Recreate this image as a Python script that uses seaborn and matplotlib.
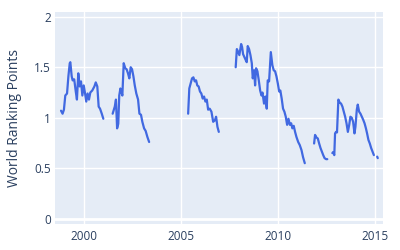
import numpy as np
import pandas as pd
import matplotlib
matplotlib.use("Agg")
import matplotlib.pyplot as plt
import seaborn as sns

# Segment data (decimal year, ranking points)
seg1_year = [1998.80, 1998.88, 1998.95, 1999.02, 1999.11, 1999.18, 1999.25, 1999.28, 1999.35, 1999.40,
             1999.48, 1999.56, 1999.62, 1999.69, 1999.76, 1999.83, 1999.90, 1999.97, 2000.04, 2000.10,
             2000.17, 2000.24, 2000.31, 2000.41, 2000.52, 2000.59, 2000.67, 2000.74, 2000.81, 2000.90, 2000.98]
seg1_pts = [1.07, 1.04, 1.08, 1.22, 1.24, 1.41, 1.54, 1.55, 1.41, 1.37,
            1.38, 1.26, 1.18, 1.44, 1.31, 1.36, 1.22, 1.32, 1.24, 1.16,
            1.24, 1.18, 1.25, 1.27, 1.31, 1.35, 1.31, 1.11, 1.09, 1.04, 0.99]

seg2_year = [2001.46, 2001.57, 2001.63, 2001.69, 2001.75, 2001.80, 2001.86, 2001.91, 2001.96, 2002.03,
             2002.11, 2002.18, 2002.25, 2002.32, 2002.39, 2002.46, 2002.53, 2002.60, 2002.68, 2002.77,
             2002.84, 2002.92, 2002.99, 2003.08, 2003.16, 2003.25, 2003.34]
seg2_pts = [1.04, 1.11, 1.18, 0.895, 0.94, 1.22, 1.29, 1.26, 1.22, 1.54,
            1.49, 1.48, 1.44, 1.39, 1.50, 1.48, 1.41, 1.32, 1.24, 1.18,
            1.04, 1.03, 0.96, 0.895, 0.87, 0.81, 0.76]

seg3_year = [2005.35, 2005.41, 2005.48, 2005.55, 2005.62, 2005.69, 2005.76, 2005.82, 2005.89, 2005.96,
             2006.03, 2006.10, 2006.17, 2006.24, 2006.31, 2006.38, 2006.46, 2006.55, 2006.64, 2006.73,
             2006.79, 2006.86, 2006.93]
seg3_pts = [1.04, 1.29, 1.34, 1.39, 1.40, 1.36, 1.37, 1.32, 1.31, 1.26,
            1.24, 1.19, 1.21, 1.16, 1.18, 1.08, 1.09, 1.06, 0.96, 0.975,
            1.01, 0.91, 0.86]

seg4_year = [2007.80, 2007.86, 2007.91, 2007.99, 2008.08, 2008.13, 2008.18, 2008.25, 2008.32, 2008.37,
             2008.42, 2008.49, 2008.56, 2008.63, 2008.68, 2008.75, 2008.80, 2008.85, 2008.92, 2008.99,
             2009.06, 2009.13, 2009.18, 2009.26, 2009.33, 2009.40, 2009.45, 2009.52, 2009.61, 2009.69,
             2009.76, 2009.83, 2009.90, 2009.97, 2010.04, 2010.10, 2010.17, 2010.24, 2010.31, 2010.38,
             2010.45, 2010.52, 2010.59, 2010.66, 2010.72, 2010.79, 2010.86, 2010.93, 2011.02, 2011.10,
             2011.19, 2011.27, 2011.36]
seg4_pts = [1.50, 1.68, 1.66, 1.62, 1.73, 1.70, 1.63, 1.60, 1.57, 1.55,
            1.71, 1.68, 1.62, 1.54, 1.39, 1.47, 1.32, 1.49, 1.46, 1.37,
            1.27, 1.22, 1.25, 1.14, 1.21, 1.09, 1.37, 1.36, 1.65, 1.52,
            1.47, 1.46, 1.41, 1.34, 1.26, 1.27, 1.19, 1.09, 1.06, 1.01,
            0.93, 0.99, 0.93, 0.945, 0.895, 0.92, 0.86, 0.81, 0.76, 0.73,
            0.68, 0.61, 0.55]

seg5_year = [2011.84, 2011.89, 2011.96, 2012.03, 2012.10, 2012.17, 2012.24, 2012.31, 2012.38, 2012.46, 2012.52]
seg5_pts = [0.745, 0.83, 0.805, 0.795, 0.745, 0.70, 0.665, 0.63, 0.60, 0.59, 0.59]

seg6_year = [2012.78, 2012.82, 2012.88, 2012.92, 2012.97, 2013.02, 2013.09, 2013.16, 2013.23, 2013.30,
             2013.37, 2013.44, 2013.51, 2013.58, 2013.65, 2013.71, 2013.78, 2013.85, 2013.92, 2013.97,
             2014.04, 2014.09, 2014.16, 2014.23, 2014.30, 2014.37, 2014.44, 2014.51, 2014.57, 2014.64,
             2014.71, 2014.78, 2014.85, 2014.92]
seg6_pts = [0.65, 0.66, 0.63, 0.845, 0.86, 0.855, 1.18, 1.15, 1.14, 1.11,
            1.06, 1.01, 0.945, 0.86, 0.93, 1.01, 1.00, 0.96, 0.845, 0.91,
            1.08, 1.13, 1.06, 1.04, 1.01, 0.98, 0.945, 0.895, 0.845, 0.78,
            0.745, 0.70, 0.665, 0.63]

seg7_year = [2015.09, 2015.12]
seg7_pts = [0.615, 0.60]

segments = [(seg1_year, seg1_pts), (seg2_year, seg2_pts), (seg3_year, seg3_pts),
            (seg4_year, seg4_pts), (seg5_year, seg5_pts), (seg6_year, seg6_pts),
            (seg7_year, seg7_pts)]

rows = []
for i, (ys, ps) in enumerate(segments):
    for y, p in zip(ys, ps):
        rows.append({"year": y, "points": p, "seg": i})
df = pd.DataFrame(rows)

sns.set_theme(style="darkgrid")
plt.rcParams['font.family'] = ['Open Sans', 'DejaVu Sans']

fig = plt.figure(figsize=(4, 2.5), dpi=100)
ax = fig.add_axes([55/400, 26/250, 328/400, 212/250])
ax.set_facecolor("#E5ECF6")
fig.patch.set_facecolor("white")

sns.lineplot(data=df, x="year", y="points", units="seg", estimator=None,
             color="#4169E1", linewidth=1.6, ax=ax)

ax.set_xlim(1998.49, 2015.39)
ax.set_ylim(-0.052, 2.047)
ax.set_xticks([2000, 2005, 2010, 2015])
ax.set_xticklabels(["2000", "2005", "2010", "2015"])
ax.set_yticks([0, 0.5, 1, 1.5, 2])
ax.set_yticklabels(["0", "0.5", "1", "1.5", "2"])
ax.grid(True, color="white", linewidth=1)
ax.axhline(0, color="white", linewidth=2, zorder=1)
for s in ax.spines.values():
    s.set_visible(False)
ax.tick_params(axis="both", length=0, labelsize=8.5, colors="#2a3f5f")
ax.tick_params(axis="x", pad=4)
ax.tick_params(axis="y", pad=3)
ax.set_xlabel("")
ax.set_ylabel("World Ranking Points", fontsize=10, color="#2a3f5f", labelpad=9)

fig.savefig("out.png", dpi=100)
